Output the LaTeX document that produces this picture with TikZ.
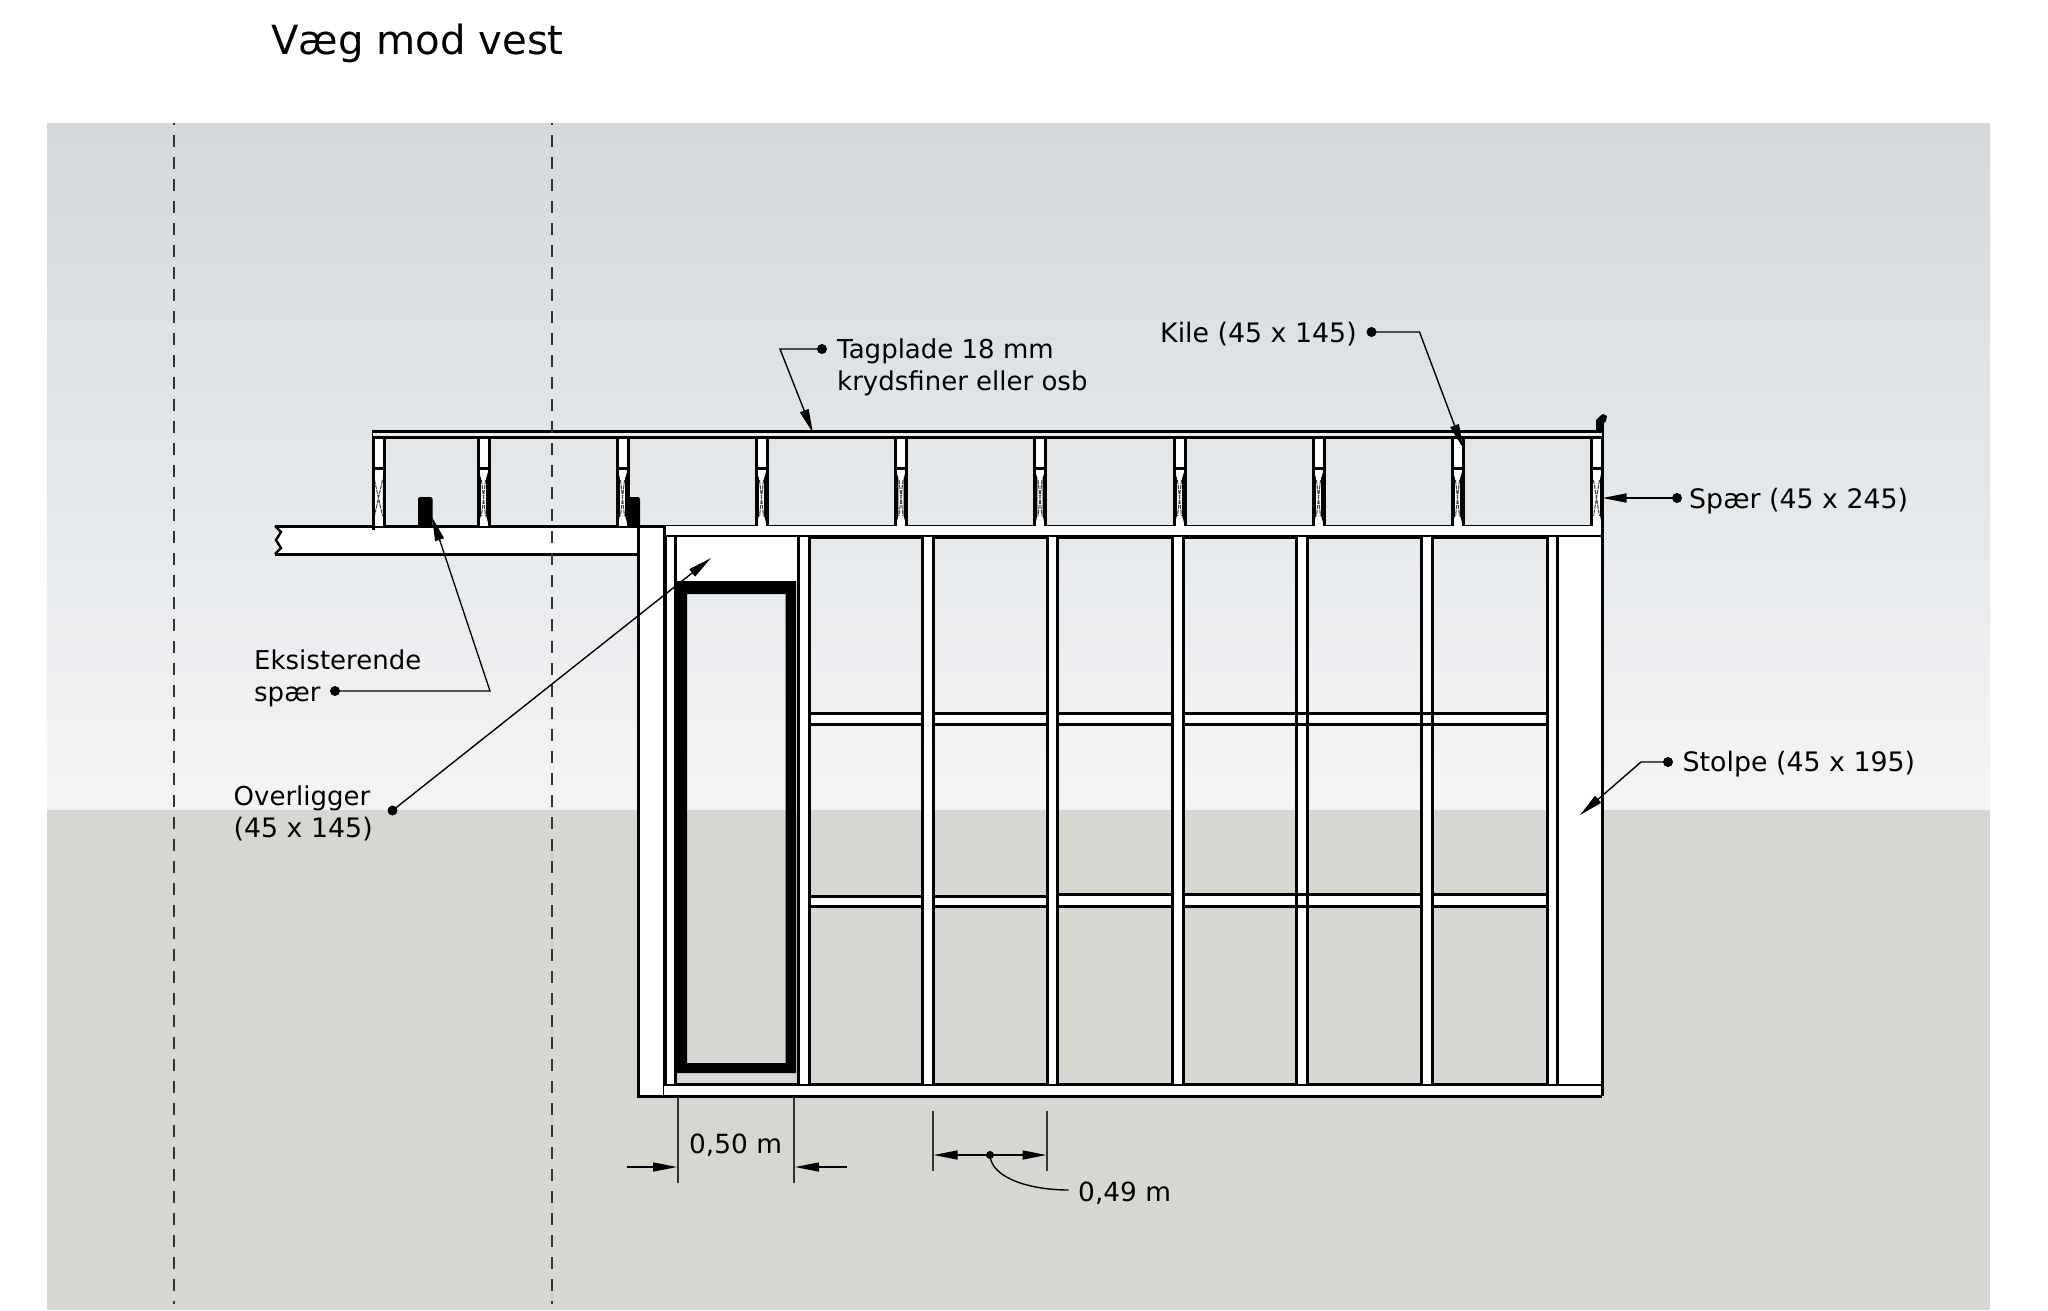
\documentclass[tikz,border=0pt]{standalone}
\usepackage{fontspec}
\setmainfont{DejaVu Sans}
\usetikzlibrary{arrows.meta}
\definecolor{skytop}{HTML}{D3D9DC}
\definecolor{skybot}{HTML}{F3F4F6}
\definecolor{ground}{HTML}{D6D7D2}
\newcommand{\numfont}{\fontsize{26.8}{32}\selectfont}
\tikzset{
  x=1pt,y=-1pt,
  wood/.style={fill=white,draw=black,line width=3pt},
  edgeline/.style={draw=black,line width=3pt},
  axisline/.style={draw=black!80,line width=1.6pt,dash pattern=on 12pt off 10pt,dash phase=10pt},
  leader/.style={draw=black,line width=1.4pt},
  leadarrow/.style={leader,-{Triangle[length=24pt,width=9pt]}},
  dimline/.style={draw=black!80,line width=1.3pt},
  dot/.style={circle,fill=black,inner sep=0pt,minimum size=10pt},
  lbl/.style={font=\fontsize{26}{32}\selectfont,inner sep=0pt,text=black,align=left},
}
\begin{document}
\begin{tikzpicture}
\useasboundingbox (0,0) rectangle (2048,1310);
% background
\fill[white] (0,0) rectangle (2048,1310);
\shade[top color=skytop,bottom color=skybot] (47,123) rectangle (1990,810);
\fill[ground] (47,810) rectangle (1990,1310);
% existing rafter
\fill[white] (281,526) -- (638,526) -- (638,554) -- (281,554) -- cycle;
\fill[white] (275,526) -- (281,532) -- (276,540) -- (281,548) -- (275,554) -- (285,554) -- (285,526) -- cycle;
\draw[edgeline] (275,526) -- (1602,526);
\draw[edgeline] (275,554) -- (638,554);
\draw[edgeline,line width=2.4pt] (275,526) -- (281,532) -- (276,540) -- (281,548) -- (275,554);
% top beam of the wall
\fill[white] (664,526) rectangle (1602,537);
\draw[edgeline] (664,536.5) -- (1602,536.5);
\draw[black,line width=4pt] (778,537) -- (1583,537);
% posts
\draw[wood] (638,526) rectangle (664,1096);
\fill[white] (664,1084) rectangle (1602,1096);
\draw[edgeline] (664,1084) -- (1602,1084);
\draw[edgeline] (638,1096) -- (1602,1096);
\fill[white] (1557,537) rectangle (1602,1084);
% header
\fill[white] (674,537) rectangle (798,581);
% horizontal noggings, upper
\foreach \a/\b in {809/922,933/1047,1057/1172,1183/1296.5,1307.5/1421.5,1432/1547}{
  \fill[white] (\a,713) rectangle (\b,724);
  \draw[edgeline] (\a,713) -- (\b,713) (\a,724) -- (\b,724);
}
% lower noggings
\foreach \a/\b/\t in {809/922/896,933/1047/896,1057/1172/894,1183/1296.5/894,1307.5/1421.5/894,1432/1547/894}{
  \fill[white] (\a,\t) rectangle (\b,906);
  \draw[edgeline] (\a,\t) -- (\b,\t) (\a,906) -- (\b,906);
}
% studs
\foreach \a/\b in {665/675,798.5/809,922/933,1047/1057.5,1172/1183,1296.5/1307.5,1421.5/1432,1547/1557}{
  \fill[white] (\a,537) rectangle (\b,1084);
  \draw[edgeline] (\a,537) -- (\a,1084) (\b,537) -- (\b,1084);
}
% noggings that run across a stud
\draw[edgeline] (1296.5,713) -- (1307.5,713) (1296.5,724) -- (1307.5,724);
\draw[edgeline] (1421.5,713) -- (1432,713) (1421.5,724) -- (1432,724);
\draw[edgeline] (1296.5,894) -- (1307.5,894) (1296.5,906) -- (1307.5,906);
% right side
\draw[edgeline] (1602,417) -- (1602,1096);
% window frame
\fill[black,even odd rule] (677,581) rectangle (796,1073) (687,594) rectangle (785.5,1063);
% roof rafters
\foreach \r/\w/\s in {373/1.2/1.5,478/2.8/3.5,617/2.8/3.5,756/2.8/3.5,895.5/2.8/3.5,1034.5/2.8/3.5,1174/2.8/3.5,1313/2.8/3.5,1452/2.8/3.5,1591/1.8/2.5}{
  \fill[white] (\r,436) rectangle (\r+11,526);
  \fill[black] (\r,469) -- (\r+\w,478) -- (\r+\w,516) -- (\r,526) -- cycle;
  \fill[black] (\r+11,469) -- (\r+11-\w,478) -- (\r+11-\w,516) -- (\r+11,526) -- cycle;
  \draw[edgeline] (\r,436) -- (\r,526) (\r+11,436) -- (\r+11,526) (\r,468) -- (\r+11,468);
  \draw[black!75,line width=1pt,dash pattern=on 4pt off 1pt] (\r+\s,480) -- (\r+11-\s,516) (\r+11-\s,480) -- (\r+\s,516);
}
\draw[edgeline] (373,432) -- (373,530);
% roof plate
\fill[white!92!black] (373,432) rectangle (1602,436.5);
\draw[edgeline] (372,431.5) -- (1602,431.5) (372,437) -- (1602,437);
% fascia tip
\fill[black] (1596,432) -- (1596,420) -- (1600,416) -- (1603,414) -- (1607,416) -- (1606,421) -- (1603,424) -- (1603,432) -- cycle;
% existing rafter ends
\fill[black,rounded corners=1.5pt] (418,526) -- (418,497) -- (432.5,497) -- (432.5,526) -- cycle;
\fill[black,rounded corners=1.5pt] (627,526) -- (627,497) -- (640,497) -- (640,526) -- cycle;
% centre lines
\draw[axisline] (174,123) -- (174,1304);
\draw[axisline] (552,123) -- (552,1304);
% title
\node[anchor=base west,inner sep=0pt,font=\fontsize{40.2}{48}\selectfont] (title) at (271,54) {Væg mod vest};
% labels
\node[lbl,anchor=west] (tag) at (837,367) {Tagplade 18 mm\\krydsfiner eller osb};
\node[lbl,anchor=base west,font=\numfont] (kile) at (1160,342) {Kile (45 x 145)};
\node[lbl,anchor=base west,font=\numfont] (spar) at (1689,508.5) {Spær (45 x 245)};
\node[lbl,anchor=base west,font=\numfont] (stolpe) at (1682.5,771) {Stolpe (45 x 195)};
\node[lbl,anchor=west] (eks) at (254,678) {Eksisterende\\spær};
\node[lbl,anchor=west] (over) at (233.5,813) {Overligger\\{\numfont (45 x 145)}};
\node[lbl,anchor=base west,font=\fontsize{26.4}{32}\selectfont] (d50) at (689,1153) {0,50 m};
\node[lbl,anchor=base west,font=\fontsize{26.4}{32}\selectfont] (d49) at (1078,1201) {0,49 m};
% leader dots and tips
\node[dot] (dtag) at (822,349) {};
\coordinate (ktag) at (780,349);
\coordinate (ttag) at (813,433);
\node[dot] (dkile) at (1371.5,332) {};
\coordinate (kkile) at (1419.5,332);
\coordinate (tkile) at (1463,448);
\node[dot] (dspar) at (1677,498) {};
\coordinate (tspar) at (1602.5,498);
\node[dot] (deks) at (335,691) {};
\coordinate (keks) at (490,691);
\coordinate (teks) at (432,517);
\node[dot] (dover) at (392.5,810.5) {};
\coordinate (tover) at (711,558);
\node[dot] (dstolpe) at (1668,762) {};
\coordinate (kstolpe) at (1641,762);
\coordinate (tstolpe) at (1580,815);
\draw[leadarrow] (dtag.center) -- (ktag) -- (ttag);
\draw[leadarrow] (dkile.center) -- (kkile) -- (tkile);
\draw[leadarrow] (dspar.center) -- (tspar);
\draw[leadarrow] (deks.center) -- (keks) -- (teks);
\draw[leadarrow] (dover.center) -- (tover);
\draw[leadarrow] (dstolpe.center) -- (kstolpe) -- (tstolpe);
% dimension 0,50 m
\coordinate (e1a) at (678,1097); \coordinate (e1b) at (678,1183);
\coordinate (e2a) at (794,1097); \coordinate (e2b) at (794,1183);
\draw[dimline] (e1a) -- (e1b);
\draw[dimline] (e2a) -- (e2b);
\coordinate (a1) at (626.5,1167); \coordinate (a1t) at (677,1167);
\coordinate (a2) at (846.5,1167); \coordinate (a2t) at (795,1167);
\draw[leadarrow] (a1) -- (a1t);
\draw[leadarrow] (a2) -- (a2t);
% dimension 0,49 m
\coordinate (e3a) at (933,1111); \coordinate (e3b) at (933,1171);
\coordinate (e4a) at (1047,1111); \coordinate (e4b) at (1047,1171);
\draw[dimline] (e3a) -- (e3b);
\draw[dimline] (e4a) -- (e4b);
\node[dot,minimum size=8pt] (d2) at (990,1155) {};
\coordinate (a3t) at (933.5,1155); \coordinate (a4t) at (1046.5,1155);
\coordinate (cv) at (1068.5,1190);
\draw[leadarrow] (d2.center) -- (a3t);
\draw[leadarrow] (d2.center) -- (a4t);
\draw[leader] (d2.center) .. controls (991,1178) and (1030,1190) .. (cv);
\end{tikzpicture}
\end{document}
